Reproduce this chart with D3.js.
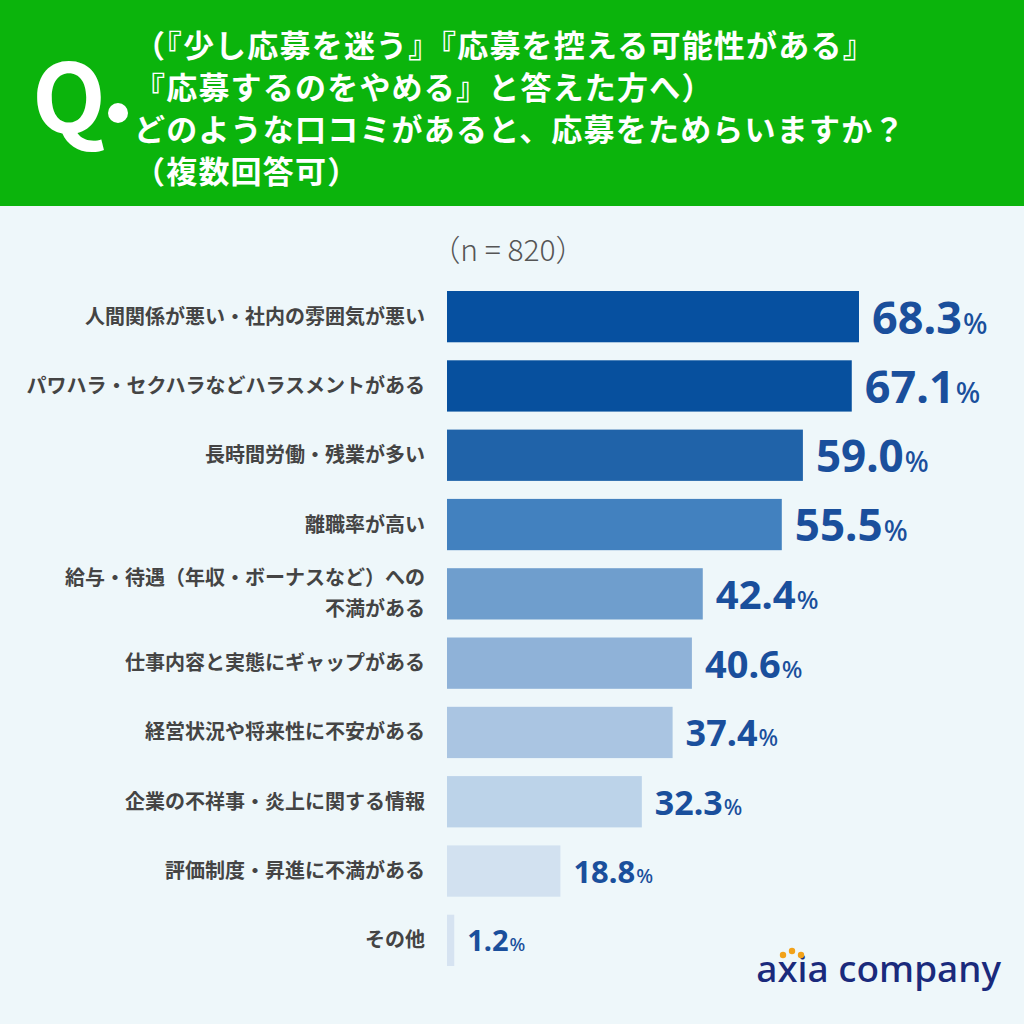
<!DOCTYPE html>
<html>
<head>
<meta charset="utf-8">
<script src="https://cdn.jsdelivr.net/npm/d3@7"></script>
<style>
  body { margin: 0; background: #eef7fa; }
  svg { display: block; }
</style>
</head>
<body>
<div id="chart"></div>
<script>
"use strict";

// data
var categories = [
    ["人間関係が悪い・社内の雰囲気が悪い"],
    ["パワハラ・セクハラなどハラスメントがある"],
    ["長時間労働・残業が多い"],
    ["離職率が高い"],
    ["給与・待遇（年収・ボーナスなど）への", "不満がある"],
    ["仕事内容と実態にギャップがある"],
    ["経営状況や将来性に不安がある"],
    ["企業の不祥事・炎上に関する情報"],
    ["評価制度・昇進に不満がある"],
    ["その他"]
];
var values = [68.3, 67.1, 59.0, 55.5, 42.4, 40.6, 37.4, 32.3, 18.8, 1.2];
var barColors = ["#0650a0", "#07509e", "#2063a9", "#4281bf", "#6f9ecd", "#8fb2d8", "#aac5e2", "#bcd3e9", "#d2e1f0", "#d6e3f1"];
var labelSizes = [45, 45, 44, 44, 40, 38, 36, 34, 31, 29];
var titleLines = [
    "（『少し応募を迷う』『応募を控える可能性がある』",
    "『応募するのをやめる』と答えた方へ）",
    "どのような口コミがあると、応募をためらいますか？",
    "（複数回答可）"
];

var W = 1024, H = 1024;
var jp = "'Noto Sans CJK JP', 'Noto Sans', sans-serif";

var svg = d3.select("#chart")
    .append("svg")
    .attr("width", W)
    .attr("height", H);

svg.append("rect").attr("width", W).attr("height", H).attr("fill", "#eef7fa");

// header
svg.append("rect").attr("width", W).attr("height", 206).attr("fill", "#0bb40c");
svg.append("text")
    .attr("x", 32).attr("y", 133)
    .attr("font-family", jp).attr("font-weight", 700)
    .attr("font-size", 96).attr("fill", "#fff")
    .text("Q");
svg.append("circle").attr("cx", 118).attr("cy", 113).attr("r", 10).attr("fill", "#fff");

svg.append("g").selectAll("text")
    .data(titleLines)
    .join("text")
    .attr("x", 134)
    .attr("y", (d, i) => 57 + i * 42)
    .attr("font-family", jp).attr("font-weight", 700)
    .attr("font-size", 31).attr("fill", "#fff")
    .attr("letter-spacing", 1.2)
    .text(d => d);

svg.append("text")
    .attr("x", 508).attr("y", 261)
    .attr("text-anchor", "middle")
    .attr("font-family", jp).attr("font-weight", 300)
    .attr("font-size", 30).attr("fill", "#555")
    .text("（n = 820）");

// scales
var x = d3.scaleLinear()
    .domain([0, 68.3])
    .range([447, 859]);

var y = d3.scaleBand()
    .domain(d3.range(values.length))
    .range([291, 966])
    .paddingInner(0.26)
    .paddingOuter(0);

var rows = svg.append("g").selectAll("g")
    .data(values)
    .join("g");

rows.append("rect")
    .attr("x", x(0))
    .attr("y", (d, i) => y(i))
    .attr("width", d => x(d) - x(0))
    .attr("height", y.bandwidth())
    .attr("fill", (d, i) => barColors[i]);

// value labels
var vl = rows.append("text")
    .attr("x", d => x(d) + 13)
    .attr("y", (d, i) => y(i) + y.bandwidth() / 2)
    .attr("dy", "0.38em")
    .attr("font-family", "'Noto Sans', sans-serif")
    .attr("font-weight", 700)
    .attr("fill", "#1a4f9c")
    .attr("font-size", (d, i) => labelSizes[i]);
vl.append("tspan").text(d => d.toFixed(1));
vl.append("tspan")
    .attr("font-size", (d, i) => labelSizes[i] * 0.64)
    .attr("font-weight", 500)
    .attr("dx", 1)
    .text("%");

// category labels
rows.each(function (d, i) {
    var lines = categories[i];
    var t = d3.select(this).append("text")
        .attr("x", 425)
        .attr("text-anchor", "end")
        .attr("font-family", jp)
        .attr("font-weight", 700)
        .attr("font-size", 20)
        .attr("fill", "#444");
    var cy = y(i) + y.bandwidth() / 2;
    lines.forEach(function (line, k) {
        t.append("tspan")
            .attr("x", 425)
            .attr("y", cy + 7 + (k - (lines.length - 1) / 2) * 31)
            .text(line);
    });
});

// logo
svg.append("text")
    .attr("x", 1001).attr("y", 982)
    .attr("text-anchor", "end")
    .attr("font-family", "'Noto Sans', sans-serif")
    .attr("font-weight", 500)
    .attr("font-size", 37)
    .attr("fill", "#1a2a7c")
    .text("axia company");
[[783, 955], [792, 951], [801, 955]].forEach(function (p) {
    svg.append("circle").attr("cx", p[0]).attr("cy", p[1]).attr("r", 3.2).attr("fill", "#f2a21a");
});
</script>
</body>
</html>
